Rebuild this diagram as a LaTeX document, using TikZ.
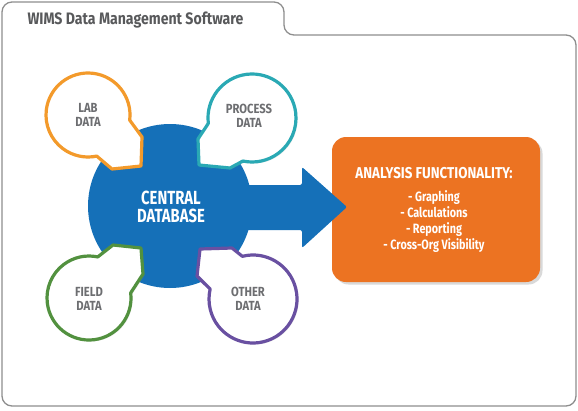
\documentclass[tikz,border=0pt]{standalone}
\usepackage{fontspec}
\setmainfont{Fira Sans}
\newfontfamily\cond[FakeStretch=0.85]{Fira Sans}
\newfontfamily\condn[FakeStretch=0.78]{Fira Sans}
\newfontfamily\condl[FakeStretch=0.8]{Fira Sans}
\usetikzlibrary{shadows,calc}
\definecolor{framegray}{HTML}{8E8E8E}
\definecolor{titlegray}{HTML}{58595B}
\definecolor{txtgray}{HTML}{6D6E71}
\definecolor{labor}{HTML}{F39A2B}
\definecolor{procteal}{HTML}{2AA9B4}
\definecolor{fieldgreen}{HTML}{52913F}
\definecolor{otherpurple}{HTML}{6950A1}
\definecolor{dbblue}{HTML}{1570B8}
\definecolor{boxorange}{HTML}{EC7322}
\tikzset{
  bubble/.style={fill=white, draw=#1, line width=3.2pt, line join=round,
    drop shadow={opacity=0.18, shadow xshift=1.5pt, shadow yshift=-1.5pt}},
  bubtext/.style={text=txtgray, align=center, font=\cond\bfseries\fontsize{13.2}{14.5}\selectfont},
  boxtext/.style={text=white, align=center},
}
\begin{document}
\begin{tikzpicture}[x=1pt,y=-1pt]
\useasboundingbox (0,0) rectangle (578,410);
% folder outline
\draw[framegray, line width=1.3pt, rounded corners=10pt]
  (2,2) -- (284,2) -- (284,35) -- (576,35) -- (576,406) -- (2,406) -- cycle;
\node[anchor=west, text=titlegray, font=\cond\bfseries\fontsize{16.6}{18}\selectfont] (title) at (24,20) {WIMS Data Management Software};

% central database
\fill[dbblue] (170,206) circle[radius=82];
\node[boxtext, font=\condn\bfseries\fontsize{19}{18.5}\selectfont] (db) at (171,207) {CENTRAL\\DATABASE};

% lab data
\draw[bubble=labor] ($(88,115)+(7:42)$) arc[start angle=7, end angle=-282, radius=42]
  -- (112,169) -- (141,166) -- (142,137) -- cycle;
\node[bubtext] (lab) at (88,115) {LAB\\DATA};

% process data
\draw[bubble=procteal] ($(252,118)+(173:44)$) arc[start angle=173, end angle=462, radius=44]
  -- (230,168) -- (199,165) -- (198,139) -- cycle;
\node[bubtext] (proc) at (249,116) {PROCESS\\DATA};

% field data
\draw[bubble=fieldgreen] ($(89,298)+(-7:42)$) arc[start angle=-7, end angle=282, radius=42]
  -- (113,245) -- (141,248) -- (143,274) -- cycle;
\node[bubtext] (field) at (89,299) {FIELD\\DATA};

% other data
\draw[bubble=otherpurple] ($(253,299)+(256:44)$) arc[start angle=256, end angle=553, radius=44]
  -- (197,276) -- (200,249) -- (232,248) -- cycle;
\node[bubtext] (other) at (248,299) {OTHER\\DATA};

% analysis box
\draw[fill=boxorange, draw=none, rounded corners=14pt,
  drop shadow={opacity=0.3, shadow xshift=2.5pt, shadow yshift=-2.5pt}]
  (332,137) rectangle (540,282);
\node[boxtext, font=\cond\bfseries\fontsize{15.7}{16}\selectfont] (ahead) at (434,173) {ANALYSIS FUNCTIONALITY:};
\node[boxtext, font=\condl\bfseries\fontsize{13.5}{16}\selectfont] (alist) at (434,222) {- Graphing\\- Calculations\\- Reporting\\- Cross-Org Visibility};

% arrow
\fill[dbblue, rounded corners=2pt] (240,185) -- (302,185) -- (302,167) -- (347,207) -- (302,248) -- (302,230) -- (240,230) -- cycle;
\end{tikzpicture}
\end{document}
